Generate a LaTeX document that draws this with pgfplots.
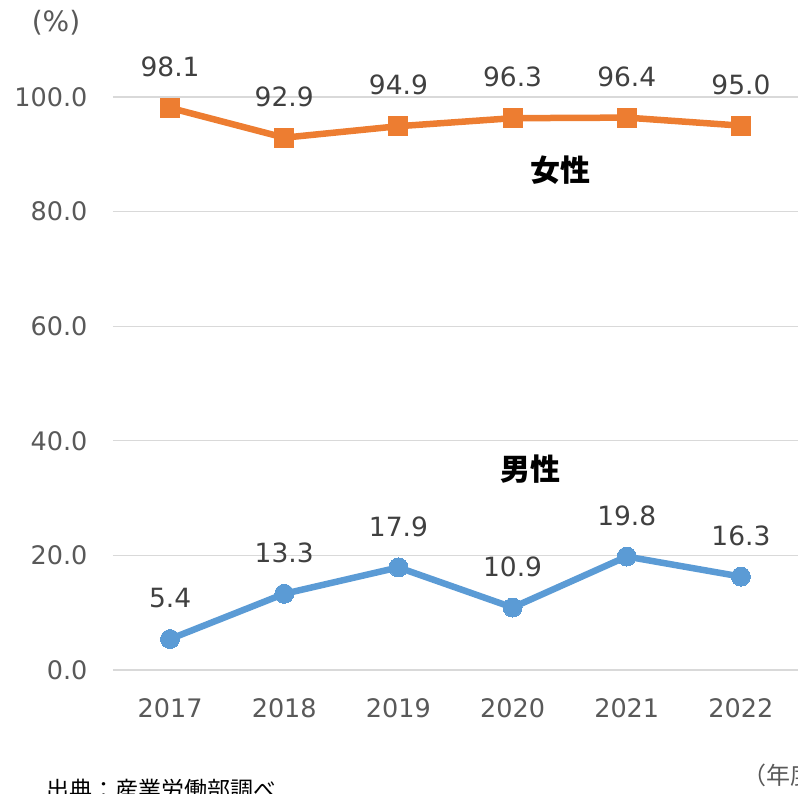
\documentclass[border=0pt]{standalone}
\usepackage{fontspec}
\setmainfont{DejaVu Sans}
\newfontfamily\cjk{Noto Sans CJK JP}
\usepackage{pgfplots}
\pgfplotsset{compat=1.18}
\definecolor{femaleorange}{HTML}{ED7D31}
\definecolor{maleblue}{HTML}{5B9BD5}
\definecolor{gridgray}{HTML}{D9D9D9}
\definecolor{ticktext}{HTML}{595959}
\definecolor{labeltext}{HTML}{404040}

\begin{document}
\begin{tikzpicture}[x=1pt,y=1pt]
\clip (0,0) rectangle (798,794);
\useasboundingbox (0,0) rectangle (798,794);
\begin{axis}[
  at={(113pt,124pt)}, anchor=south west,
  scale only axis, width=685pt, height=573pt,
  xmin=-0.5, xmax=5.5, ymin=0, ymax=100,
  xtick={0,1,2,3,4,5},
  xticklabels={2017,2018,2019,2020,2021,2022},
  ytick={0,20,40,60,80,100},
  ymajorgrids, grid style={draw=gridgray, line width=1.2pt},
  axis line style={draw=none}, major tick length=0pt,
  tick label style={font=\fontsize{25.5}{30}\selectfont, text=ticktext},
  yticklabel style={anchor=east, xshift=-22pt,
    /pgf/number format/.cd, fixed, fixed zerofill, precision=1, assume math mode=true},
  xticklabel style={anchor=center, yshift=-38pt},
  clip=false,
  point meta=explicit symbolic,
  nodes near coords,
  every node near coord/.append style={font=\fontsize{26.5}{30}\selectfont, text=labeltext, anchor=center, yshift=41pt},
]
% 女性
\addplot[color=femaleorange, line width=6.5pt, mark=square*, mark size=9.5pt,
  mark options={line width=0pt}] coordinates {
  (0,98.1) [98.1] (1,92.9) [92.9] (2,94.9) [94.9] (3,96.3) [96.3] (4,96.4) [96.4] (5,95.0) [95.0]};
% 男性
\addplot[color=maleblue, line width=6.5pt, mark=*, mark size=9.5pt,
  mark options={line width=0pt}] coordinates {
  (0,5.4) [5.4] (1,13.3) [13.3] (2,17.9) [17.9] (3,10.9) [10.9] (4,19.8) [19.8] (5,16.3) [16.3]};
\node[font=\cjk\bfseries\fontsize{30}{34}\selectfont] at (axis cs:3.42,87.3) {女性};
\node[font=\cjk\bfseries\fontsize{30}{34}\selectfont] at (axis cs:3.16,35.1) {男性};
\end{axis}
\node[font=\fontsize{28}{32}\selectfont, text=ticktext] at (56,771) {(\%)};
\node[font=\cjk\fontsize{23}{26}\selectfont, anchor=north west, inner sep=0pt] at (46,15) {出典：産業労働部調べ};
\node[font=\cjk\fontsize{24}{28}\selectfont, text=ticktext, anchor=north west, inner sep=0pt] at (742,30) {（年度）};
\end{tikzpicture}
\end{document}
